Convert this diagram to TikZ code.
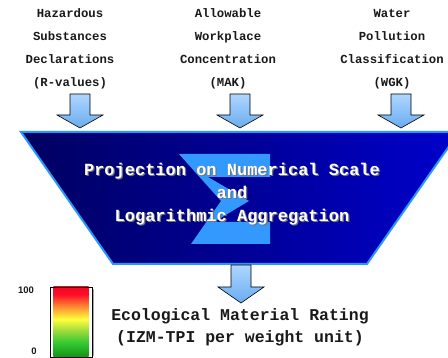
\documentclass[tikz,border=0pt]{standalone}
\usepackage{fontspec}
\newfontfamily\monobold{Liberation Mono}[BoldFont={Liberation Mono Bold}]
\newfontfamily\sansbold{Liberation Sans}[BoldFont={Liberation Sans Bold}]

\definecolor{navyL}{RGB}{0,0,96}
\definecolor{navyR}{RGB}{0,0,204}
\definecolor{skyline}{RGB}{40,150,255}
\definecolor{sigmablue}{RGB}{51,153,255}
\definecolor{arrowtop}{RGB}{175,214,255}
\definecolor{arrowbot}{RGB}{105,172,240}
\definecolor{inktext}{RGB}{25,25,25}
\definecolor{barDR}{RGB}{200,0,0}
\definecolor{barR}{RGB}{255,10,40}
\definecolor{barO}{RGB}{255,140,50}
\definecolor{barY}{RGB}{255,255,60}
\definecolor{barYG}{RGB}{160,220,60}
\definecolor{barG}{RGB}{50,200,50}
\definecolor{barDG}{RGB}{0,110,0}

\pgfdeclareverticalshading{ratingbar}{42pt}{%
  color(0pt)=(barDG); color(8pt)=(barDG!70!barG); color(20pt)=(barG);
  color(29pt)=(barYG); color(37pt)=(barY); color(46pt)=(barO);
  color(55pt)=(barR); color(64pt)=(barR!60!barDR); color(70pt)=(barDR)}

\tikzset{
  sourcelabel/.style={align=center, text=inktext, inner sep=1pt,
    font=\monobold\bfseries\fontsize{12.3}{23}\selectfont},
  centrelabel/.style={align=center,
    font=\monobold\bfseries\fontsize{17}{23}\selectfont},
  resultlabel/.style={align=center, text=inktext,
    font=\monobold\bfseries\fontsize{16.5}{22}\selectfont},
  scalelabel/.style={text=inktext, inner sep=0pt,
    font=\sansbold\bfseries\fontsize{9.5}{11}\selectfont},
  arrowstyle/.style={draw=black, line width=0.6pt,
    top color=arrowtop, bottom color=arrowbot, line join=miter},
  pics/blockarrow/.style 2 args={code={
    \draw[arrowstyle] (-10,0) -- (10,0) -- (10,#2) -- (23,#2) -- (0,#1)
      -- (-23,#2) -- (-10,#2) -- cycle;
  }}
}

\begin{document}
\begin{tikzpicture}[x=1pt,y=-1pt]
\useasboundingbox (0,0) rectangle (448,358);
\clip (0,0) rectangle (448,358);

% input criteria
\node[sourcelabel] (hsd) at (70,49)
  {Hazardous\\Substances\\Declarations\\(R-values)};
\node[sourcelabel] (mak) at (228,49)
  {Allowable\\Workplace\\Concentration\\(MAK)};
\node[sourcelabel] (wgk) at (392,49)
  {Water\\Pollution\\Classification\\(WGK)};

% arrows into the aggregation funnel
\pic at (80,94) {blockarrow={34}{21}};
\pic at (240,94) {blockarrow={34}{21}};
\pic at (401,94) {blockarrow={34}{21}};

% aggregation funnel
\fill[left color=navyL, right color=navyR]
  (21,132) -- (459,132) -- (367,264) -- (113,264) -- cycle;
\draw[skyline, line width=2pt, line join=miter]
  (21,132) -- (459,132) -- (367,264) -- (113,264) -- cycle;

% sum sign
\fill[sigmablue] (179,154) -- (270,154) -- (270,177) -- (208,177)
  -- (249,201) -- (214,222) -- (270,222) -- (270,244) -- (191,244)
  -- (221,201) -- cycle;

\node[centrelabel, text=black!55] (projshade) at (233.2,195.2)
  {Projection on Numerical Scale\\and\\Logarithmic Aggregation};
\node[centrelabel, text=white] (proj) at (232,194)
  {Projection on Numerical Scale\\and\\Logarithmic Aggregation};

% result
\pic at (241,265) {blockarrow={38}{22}};
\node[resultlabel] (rating) at (240,327)
  {Ecological Material Rating\\(IZM-TPI per weight unit)};

% rating scale
\fill[black!35] (92,289) rectangle (94,356);
\shade[shading=ratingbar] (50,287) rectangle (92,357);
\draw[black, line width=0.8pt] (50,287) rectangle (92,357);
\node[scalelabel] (top100) at (26,290) {100};
\node[scalelabel] (zero) at (34,351.5) {0};
\end{tikzpicture}
\end{document}
